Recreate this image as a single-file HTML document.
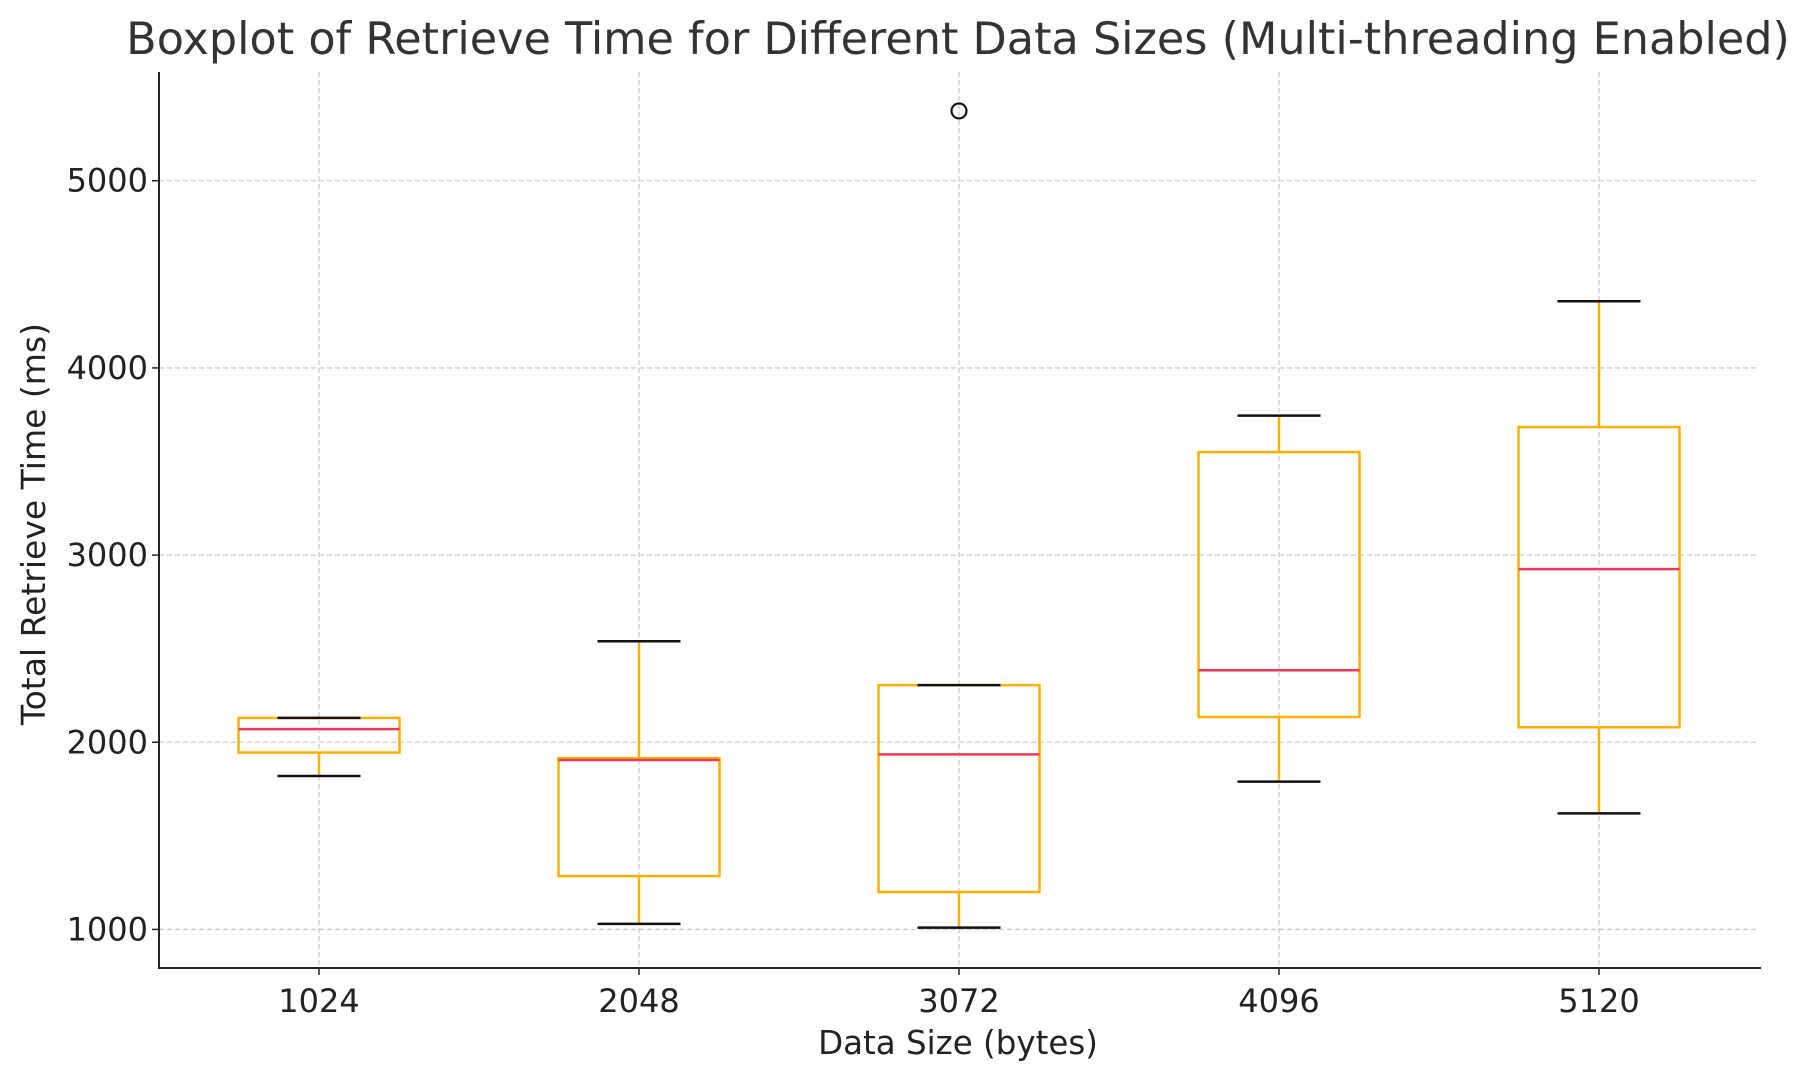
<!DOCTYPE html>
<html><head><meta charset="utf-8"><style>
html,body{margin:0;padding:0;background:#fff;}
svg{display:block;font-family:"DejaVu Sans","Liberation Sans",sans-serif;}
</style></head><body>
<svg id="chart" width="1811" height="1077" viewBox="0 0 1811 1077" xmlns="http://www.w3.org/2000/svg">
<rect width="1811" height="1077" fill="#fff"/>
<g id="grid"></g><g id="boxes"></g><g id="axes"></g>
<text x="958" y="54" text-anchor="middle" font-size="44.5" fill="#333">Boxplot of Retrieve Time for Different Data Sizes (Multi-threading Enabled)</text>
<text x="958" y="1054" text-anchor="middle" font-size="32.5" fill="#222">Data Size (bytes)</text>
<text transform="translate(45,524) rotate(-90)" text-anchor="middle" font-size="33" fill="#222">Total Retrieve Time (ms)</text>
</svg>
<script>
const categories = ["1024","2048","3072","4096","5120"];
const whiskerLow = [1820,1030,1010,1790,1620];
const q1 = [1945,1285,1200,2135,2080];
const medians = [2070,1905,1935,2385,2925];
const q3 = [2130,1915,2305,3550,3684];
const whiskerHigh = [2130,2540,2305,3745,4356];
const outliers = [[],[],[5373],[],[]];
const yTicks = [1000,2000,3000,4000,5000];

const NS="http://www.w3.org/2000/svg";
const L=159,R=1759,T=72,B=968;
const yMin=794,yMax=5581;
const y=v=>B-(v-yMin)/(yMax-yMin)*(B-T);
const x=i=>L+(i+0.5)*(R-L)/categories.length;
const halfBox=80.5, halfCap=41.5;
function mk(tag,attrs,parent){const e=document.createElementNS(NS,tag);for(const k in attrs)e.setAttribute(k,attrs[k]);parent.appendChild(e);return e;}
const grid=document.getElementById('grid'),boxes=document.getElementById('boxes'),axes=document.getElementById('axes');
yTicks.forEach(v=>{
  const g=mk('line',{x1:L,x2:R,y1:y(v),y2:y(v),stroke:'#cccccc','stroke-width':1.3,'stroke-dasharray':'5,3'},grid);
  
  
  const t=mk('line',{x1:L-7,x2:L,y1:y(v),y2:y(v),stroke:'#222','stroke-width':1.5},axes);
  
  
  const lb=mk('text',{x:L-11,y:y(v)+11,'text-anchor':'end','font-size':32,fill:'#222'},axes);
  lb.textContent=v;
  
  
});
categories.forEach((c,i)=>{
  const cx=x(i);
  const g=mk('line',{x1:cx,x2:cx,y1:T,y2:B,stroke:'#cccccc','stroke-width':1.3,'stroke-dasharray':'5,3'},grid);
  
  
  const grp=mk('g',{},boxes);
  
  
  mk('line',{x1:cx,x2:cx,y1:y(q1[i]),y2:y(whiskerLow[i]),stroke:'#ffb000','stroke-width':2.5},grp);
  mk('line',{x1:cx,x2:cx,y1:y(q3[i]),y2:y(whiskerHigh[i]),stroke:'#ffb000','stroke-width':2.5},grp);
  mk('rect',{x:cx-halfBox,y:y(q3[i]),width:2*halfBox,height:y(q1[i])-y(q3[i]),fill:'none',stroke:'#ffb000','stroke-width':2.5},grp);
  mk('line',{x1:cx-halfCap,x2:cx+halfCap,y1:y(whiskerLow[i]),y2:y(whiskerLow[i]),stroke:'#111','stroke-width':2.5},grp);
  mk('line',{x1:cx-halfCap,x2:cx+halfCap,y1:y(whiskerHigh[i]),y2:y(whiskerHigh[i]),stroke:'#111','stroke-width':2.5},grp);
  mk('line',{x1:cx-halfBox,x2:cx+halfBox,y1:y(medians[i]),y2:y(medians[i]),stroke:'#f03a55','stroke-width':2.5},grp);
  outliers[i].forEach(o=>{
    const ci=mk('circle',{cx:cx,cy:y(o),r:7.5,fill:'none',stroke:'#111','stroke-width':2.2},grp);
    
    
  });
  const t=mk('line',{x1:cx,x2:cx,y1:B,y2:B+7,stroke:'#222','stroke-width':1.5},axes);
  
  
  const lb=mk('text',{x:cx,y:B+44,'text-anchor':'middle','font-size':32,fill:'#222'},axes);
  lb.textContent=c;
  
  
});
const ya=mk('line',{x1:L,x2:L,y1:T,y2:B+1,stroke:'#222','stroke-width':2},axes);


const xa=mk('line',{x1:L-1,x2:1761,y1:B,y2:B,stroke:'#222','stroke-width':2},axes);


</script>
</body></html>
